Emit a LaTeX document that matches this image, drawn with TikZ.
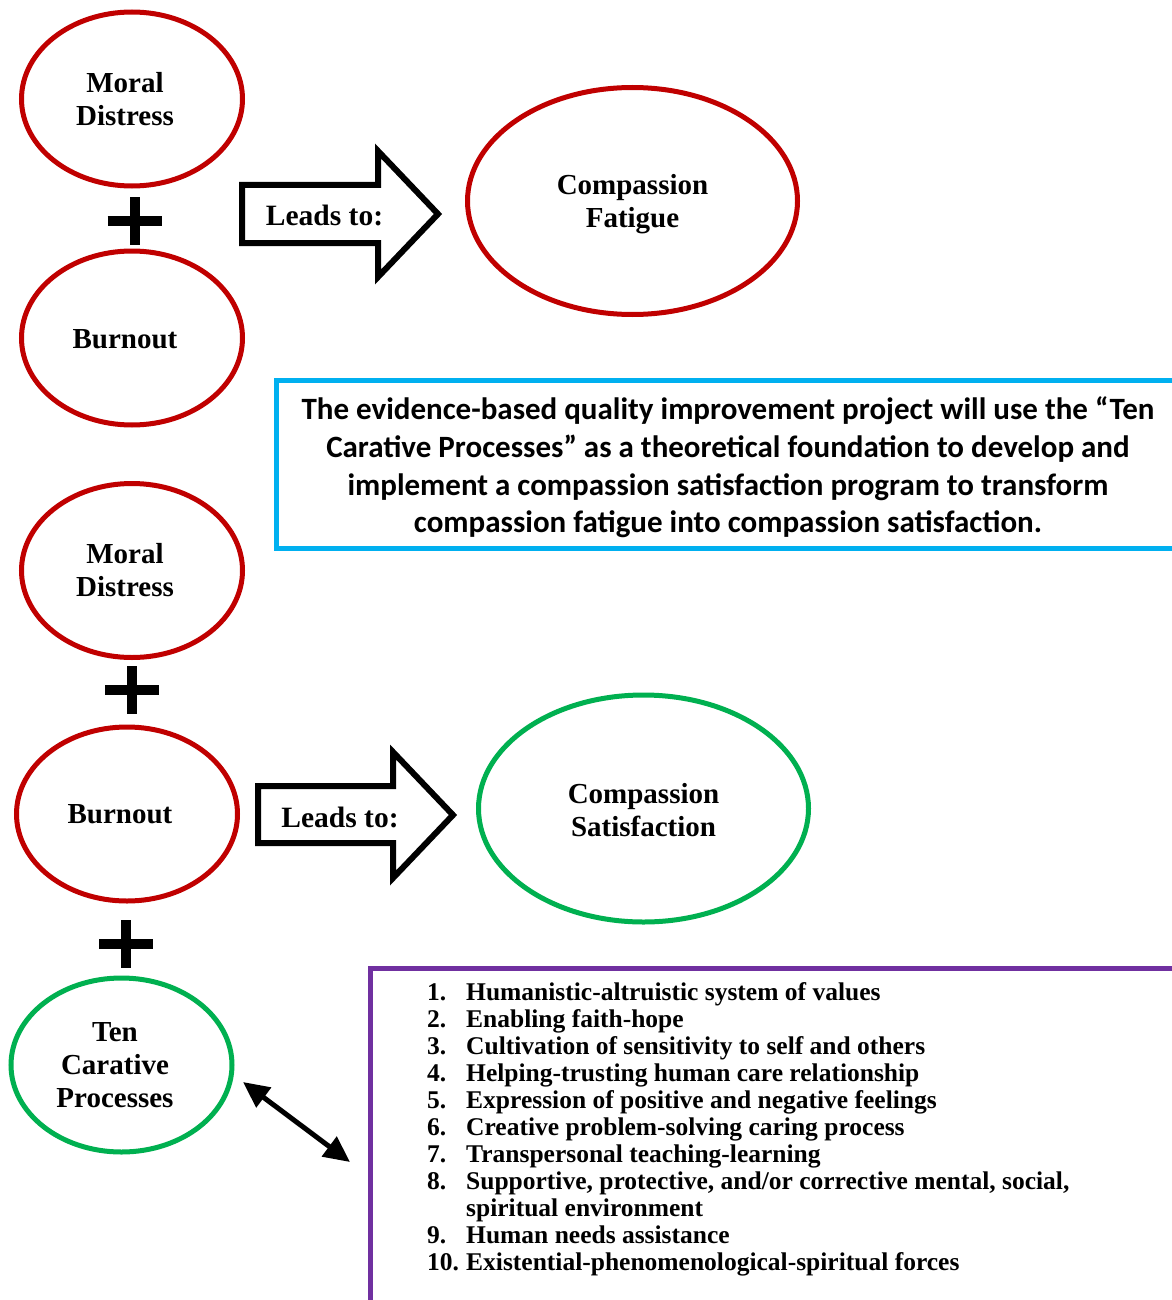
\documentclass[tikz,border=0pt]{standalone}
\usepackage{fontspec}
\setmainfont{Liberation Serif}
\newfontfamily\calibri{Carlito}
\usetikzlibrary{shapes.geometric,arrows.meta}
\definecolor{ellred}{HTML}{C00000}
\definecolor{ellgreen}{HTML}{00B050}
\definecolor{boxblue}{HTML}{00B0F0}
\definecolor{boxpurple}{HTML}{7030A0}
\newcommand\litem[2]{\makebox[39pt][l]{#1}#2}
\begin{document}
\begin{tikzpicture}[x=1pt,y=-1pt,
  ell/.style={ellipse, line width=5pt, inner sep=0pt},
  smallell/.style={ell, minimum width=221pt, minimum height=174pt},
  bigell/.style={ell, minimum width=330pt, minimum height=227pt},
  redell/.style={draw=ellred},
  greenell/.style={draw=ellgreen},
  elltext/.style={inner sep=0pt, align=center, font=\fontsize{29}{33}\selectfont\bfseries},
  blockarrow/.style={draw=black, line width=6pt, line join=miter, miter limit=10, fill=white},
  leadtext/.style={inner sep=0pt, font=\fontsize{29.5}{33}\selectfont\bfseries},
  plussign/.pic={\draw[line width=10pt] (-27,0) -- (27,0) (0,-24) -- (0,24);},
  dblarrow/.style={line width=5pt, {Triangle[length=26pt,width=24pt]}-{Triangle[length=26pt,width=24pt]}}
]
\useasboundingbox (0,0) rectangle (1171,1300);
\fill[white] (0,0) rectangle (1171,1300);

% top group
\node[smallell, redell] (md1) at (132,99) {};
\node[elltext] (md1t) at ([xshift=-7pt]md1.center) {Moral\\Distress};
\pic at (134.5,221) {plussign};
\node[smallell, redell] (bo1) at (132,338) {};
\node[elltext] (bo1t) at ([xshift=-7pt,yshift=-1pt]bo1.center) {Burnout};
\draw[blockarrow] (242,185) -- (378,185) -- (378,151) -- (438,214) -- (378,277) -- (378,243) -- (242,243) -- cycle;
\node[leadtext] (lead1) at (324.5,215) {Leads to:};
\node[bigell, redell] (cf) at (632.5,201) {};
\node[elltext] (cft) at ([yshift=-3pt]cf.center) {Compassion\\Fatigue};

% statement box
\node[draw=boxblue, line width=5pt, minimum width=903pt, minimum height=168pt,
  inner sep=0pt] (aim) at (728,464.5) {};
\node[inner sep=0pt, align=center,
  font=\calibri\bfseries\fontsize{31}{37.7}\selectfont] (aimt) at (728,467.5)
  {The evidence-based quality improvement project will use the “Ten\\
   Carative Processes” as a theoretical foundation to develop and\\
   implement a compassion satisfaction program to transform\\
   compassion fatigue into compassion satisfaction.};

% bottom group
\node[smallell, redell] (md2) at (132,570.5) {};
\node[elltext] (md2t) at ([xshift=-7pt]md2.center) {Moral\\Distress};
\pic at (132,690) {plussign};
\node[smallell, redell] (bo2) at (127,814) {};
\node[elltext] (bo2t) at ([xshift=-7pt]bo2.center) {Burnout};
\draw[blockarrow] (258,786) -- (393,786) -- (393,752) -- (453,815) -- (393,878) -- (393,843) -- (258,843) -- cycle;
\node[leadtext] (lead2) at (340,817) {Leads to:};
\node[bigell, greenell] (cs) at (643.5,808.5) {};
\node[elltext] (cst) at ([yshift=-2pt]cs.center) {Compassion\\Satisfaction};
\pic at (126,944) {plussign};
\node[smallell, greenell] (tcp) at (121.5,1065) {};
\node[elltext] (tcpt) at ([xshift=-6.5pt]tcp.center) {Ten\\Carative\\Processes};

% list box
\node[draw=boxpurple, line width=5pt, minimum width=840pt, minimum height=350pt,
  anchor=north west, inner sep=0pt] (listbox) at (368,966) {};
\node[anchor=north west, inner sep=0pt, align=left,
  font=\fontsize{25.5}{27}\selectfont\bfseries] (list) at (427,982) {%
  \litem{1.}{Humanistic-altruistic system of values}\\
  \litem{2.}{Enabling faith-hope}\\
  \litem{3.}{Cultivation of sensitivity to self and others}\\
  \litem{4.}{Helping-trusting human care relationship}\\
  \litem{5.}{Expression of positive and negative feelings}\\
  \litem{6.}{Creative problem-solving caring process}\\
  \litem{7.}{Transpersonal teaching-learning}\\
  \litem{8.}{Supportive, protective, and/or corrective mental, social,}\\
  \litem{}{spiritual environment}\\
  \litem{9.}{Human needs assistance}\\
  \litem{10.}{Existential-phenomenological-spiritual forces}};

\coordinate (da1) at (243,1082);
\coordinate (da2) at (350,1162);
\draw[dblarrow] (da1) -- (da2);
\end{tikzpicture}
\end{document}
